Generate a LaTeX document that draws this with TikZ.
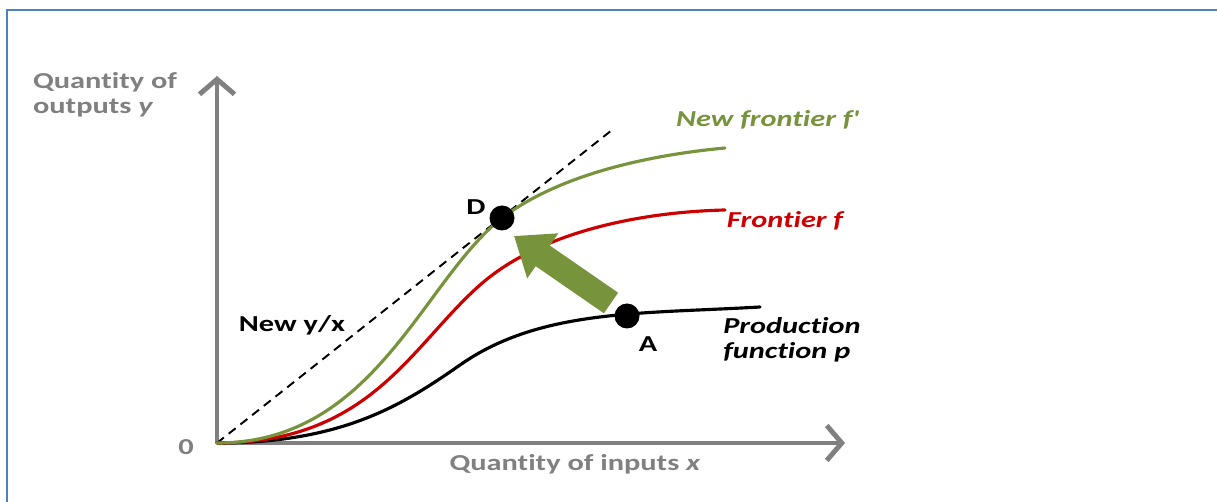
\documentclass[tikz,border=0pt]{standalone}
\usepackage{fontspec}
\setmainfont{Carlito}[FakeStretch=1.33, Ligatures=NoCommon]
\usetikzlibrary{arrows.meta,positioning}
\definecolor{axisgray}{RGB}{128,128,128}
\definecolor{olivegreen}{RGB}{119,147,60}
\definecolor{frontred}{RGB}{204,0,0}
\definecolor{frameblue}{RGB}{79,129,189}
\tikzset{
  axis/.style={axisgray, line width=2.8pt, -{Straight Barb[length=0.3cm,width=0.7cm]}},
  lbl/.style={font=\fontsize{13}{14.2}\selectfont\bfseries, inner sep=0pt, align=left},
  curvelbl/.style={lbl, font=\fontsize{13}{14.2}\selectfont\bfseries\itshape},
  dot/.style={circle, fill=black, minimum size=0.5cm, inner sep=0pt},
  curve/.style={line width=1.8pt, line cap=round},
  bigarrow/.style={olivegreen, line width=0.5cm, -{Triangle[length=0.7cm,width=1.05cm]}}
}
\begin{document}
\begin{tikzpicture}[x=0.02cm, y=-0.02cm]
   \useasboundingbox (0,0) rectangle (1217,502);
   \draw [frameblue, line width=1.5pt] (7,502) -- (7,10) -- (1217,10);
   % axes
   \coordinate (O) at (217,443);
   \coordinate (Ytip) at (217,76);
   \coordinate (Xtip) at (845,443);
   \coordinate (Dend) at (612,130);
   \draw [axis] (O) -- (Ytip);
   \draw [axis] (O) -- (Xtip);
   \node [lbl, text=axisgray] (zero) at (186,447) {0};
   \node [lbl, text=axisgray] (ylabel) at (105,95) {Quantity of\\outputs \textit{y}};
   \node [lbl, text=axisgray] (xlabel) at (575,464) {Quantity of inputs \textit{x}};
   % ray y/x
   \draw [dashed, line width=1.1pt, dash pattern=on 5pt off 3.5pt] (O) -- (Dend);
   \node [lbl] (ratio) at (292,325) {New y/x};
   % points
   \coordinate (D) at (502,218);
   \coordinate (A) at (627,316);
   % curves
   \draw [curve, black] (O) .. controls (340,443) and (400,407) .. (460,365)
      .. controls (540,309) and (640,314) .. (760,307);
   \draw [curve, frontred] (O) .. controls (370,443) and (410,347) .. (480,285)
      .. controls (540,232) and (640,212) .. (725,210);
   \draw [curve, olivegreen] (O) .. controls (375,443) and (422,281) .. (D)
      .. controls (560,174) and (650,155) .. (725,148);
   \node [curvelbl, text=olivegreen] (newf) at (767,120) {New frontier f\textquotesingle};
   \node [curvelbl, text=frontred] (front) at (785,221) {Frontier f};
   \node [curvelbl] (prod) at (792,340) {Production\\function p};
   \node [dot] (Ddot) at (D) {};
   \node [dot] (Adot) at (A) {};
   \node [lbl] (Dlab) at (476,207) {D};
   \node [lbl] (Alab) at (648,344) {A};
   % shift of the frontier
   \coordinate (tail) at (611,303);
   \coordinate (head) at (514,236);
   \draw [bigarrow] (tail) -- (head);
\end{tikzpicture}
\end{document}
